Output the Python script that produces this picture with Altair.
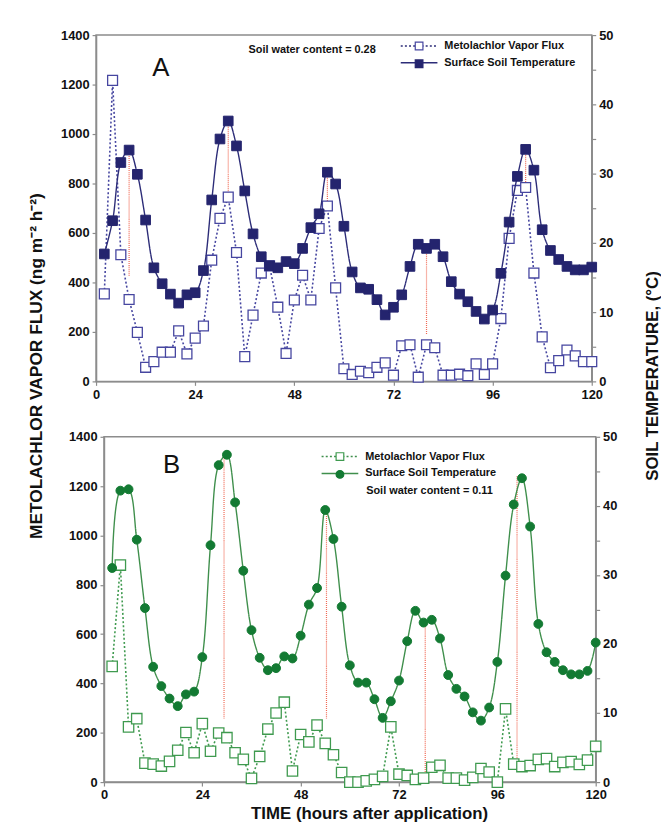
import altair as alt
import pandas as pd

FONT = "Liberation Sans"
FLUX = "Metolachlor Vapor Flux"
TEMP = "Surface Soil Temperature"
SERIES = [FLUX, TEMP]
CODES = ["f", "t"]

hours = [2, 4, 6, 8, 10, 12, 14, 16, 18, 20, 22, 24, 26, 28, 30, 32, 34, 36, 38, 40,
         42, 44, 46, 48, 50, 52, 54, 56, 58, 60, 62, 64, 66, 68, 70, 72, 74, 76, 78, 80,
         82, 84, 86, 88, 90, 92, 94, 96, 98, 100, 102, 104, 106, 108, 110, 112, 114, 116, 118, 120]

# Panel A (soil water content 0.28)
temp_a = [18.4, 23.2, 31.6, 33.4, 29.9, 23.3, 16.4, 14.1, 12.6, 11.3,
          12.5, 12.8, 16.0, 26.2, 35.0, 37.6, 34.0, 27.5, 21.3, 18.0,
          16.7, 16.4, 17.3, 17.0, 19.2, 22.2, 24.2, 30.2, 28.5, 22.4,
          15.8, 13.5, 13.3, 11.8, 9.6, 10.7, 12.5, 16.6, 19.8, 19.2,
          19.8, 18.0, 14.4, 12.6, 11.5, 10.1, 9.0, 10.3, 15.6, 23.0,
          29.6, 33.5, 30.5, 21.9, 18.9, 17.6, 16.6, 16.1, 16.1, 16.5]
flux_a = [354, 1217, 512, 331, 198, 57, 80, 118, 118, 204,
          111, 175, 224, 490, 659, 745, 521, 100, 268, 438,
          467, 300, 113, 329, 429, 329, 618, 709, 378, 51,
          28, 41, 35, 57, 75, 25, 144, 148, 17, 148,
          136, 25, 25, 29, 23, 71, 28, 71, 254, 578,
          772, 784, 438, 180, 55, 84, 127, 103, 80, 80]
lag_a_x = [8, 32, 56, 80, 104]
lag_a_top = [935, 1053, 845, 540, 938]
lag_a_bottom = [425, 745, 712, 190, 780]

# Panel B (soil water content 0.11)
temp_b = [31.0, 42.2, 42.4, 35.1, 25.2, 16.7, 13.9, 12.1, 11.0, 12.7,
          13.1, 18.1, 34.3, 45.9, 47.4, 40.5, 30.6, 22.0, 18.0, 16.2,
          16.5, 18.2, 17.9, 21.2, 25.7, 28.1, 39.4, 35.2, 25.4, 16.9,
          14.4, 14.4, 12.0, 9.3, 11.7, 14.7, 20.4, 24.8, 23.1, 23.5,
          20.8, 15.5, 13.5, 12.4, 10.1, 8.9, 10.8, 17.4, 29.9, 40.2,
          44.0, 37.0, 22.9, 18.8, 17.4, 16.2, 15.6, 15.6, 16.1, 20.2]
flux_b = [469, 880, 224, 257, 77, 73, 65, 84, 129, 201,
          119, 237, 125, 199, 180, 119, 92, 15, 104, 215,
          280, 324, 45, 193, 163, 231, 157, 111, 39, 0,
          0, 5, 11, 23, 224, 32, 27, 11, 16, 60,
          68, 16, 16, 8, 19, 55, 41, 0, 297, 73,
          63, 67, 92, 95, 63, 80, 83, 72, 89, 145]
lag_b_x = [29.3, 54.3, 78.4, 100.8]
lag_b_top = [1328, 1103, 655, 1240]
lag_b_bottom = [258, 258, 37, 92]

x_ticks = [0, 24, 48, 72, 96, 120]
flux_ticks = [0, 200, 400, 600, 800, 1000, 1200, 1400]
temp_ticks = [0, 5, 10, 15, 20, 25, 30, 35, 40, 45, 50]

LEFT_TITLE = "METOLACHLOR VAPOR FLUX  (ng m\u207b\u00b2 h\u207b\u00b2)"
RIGHT_TITLE = "SOIL TEMPERATURE, (\u00b0C)"
X_TITLE = "TIME (hours after application)"
RED = "#f06a55"


def panel(temp, flux, lag_x, lag_top, lag_bot, width, height, flux_col, temp_col,
          line_col, temp_shape, temp_size, flux_size, letter, letter_pos, swc, swc_pos,
          leg_x, leg_y, first):
    df_f = pd.DataFrame({"hour": hours, "value": flux, "series": FLUX, "code": "f"})
    df_t = pd.DataFrame({"hour": hours, "value": temp, "series": TEMP, "code": "t"})
    df_r = pd.DataFrame({"hour": lag_x, "top": lag_top, "bottom": lag_bot})
    df_l = pd.DataFrame({"hour": [letter_pos[0]], "value": [letter_pos[1]], "label": [letter]})
    df_s = pd.DataFrame({"hour": [swc_pos[0]], "value": [swc_pos[1]], "label": [swc]})

    if first:
        xax = alt.Axis(values=x_ticks, tickSize=4, labelPadding=3, labelFlush=False,
                       format="d", title=None)
    else:
        xax = alt.Axis(values=x_ticks, tickSize=4, labelPadding=3, labelFlush=False,
                       format="d", title=X_TITLE, titleX=268, titleY=32,
                       titleBaseline="middle", titleAlign="center", titleFontSize=17)
    X = alt.X("hour:Q", scale=alt.Scale(domain=[0, 120], nice=False, zero=False), axis=xax)

    if first:
        fax = alt.Axis(orient="left", values=flux_ticks, tickSize=4, labelPadding=3,
                       labelFlush=False, format="d", title=LEFT_TITLE, titleAngle=270,
                       titleFontSize=17.5,
                       titleX=-60, titleY=334, titleAlign="center", titleBaseline="middle")
    else:
        fax = alt.Axis(orient="left", values=flux_ticks, tickSize=4, labelPadding=3,
                       labelFlush=False, format="d", title=None)
    YF = alt.Y("value:Q", scale=alt.Scale(domain=[0, 1400], nice=False), axis=fax)

    if first:
        tax = alt.Axis(orient="right", values=temp_ticks, tickSize=4, labelPadding=3,
                       labelFlush=False,
                       labelExpr="datum.value % 10 == 0 ? datum.label : ''",
                       title=RIGHT_TITLE, titleAngle=270, titleFontSize=17,
                       titleX=61, titleY=344,
                       titleAlign="center", titleBaseline="middle")
    else:
        tax = alt.Axis(orient="right", values=temp_ticks, tickSize=4, labelPadding=3,
                       labelFlush=False,
                       labelExpr="datum.value % 10 == 0 ? datum.label : ''", title=None)
    YT = alt.Y("value:Q", scale=alt.Scale(domain=[0, 50], nice=False), axis=tax)

    leg_line = alt.Legend(title=None, orient="none", legendX=leg_x, legendY=leg_y,
                          padding=0, symbolType="M-5,0H5", symbolSize=55,
                          symbolStrokeColor=line_col, symbolStrokeWidth=1.5,
                          symbolFillColor="transparent", labelOffset=20, rowPadding=5,
                          labelFontSize=11, labelFontWeight="bold", labelFont=FONT,
                          labelColor="#111")
    leg_mark = alt.Legend(title=None, orient="none", legendX=leg_x, legendY=leg_y,
                          padding=0, symbolSize=60, symbolStrokeWidth=1.2,
                          labelOffset=20, rowPadding=5, labelExpr="''",
                          labelFontSize=11, labelFontWeight="bold", labelFont=FONT)
    DASH = alt.StrokeDash("series:N", scale=alt.Scale(domain=SERIES, range=[[2, 2.2], [1, 0]]),
                          legend=leg_line)
    FILL = alt.Fill("code:N", scale=alt.Scale(domain=CODES, range=["white", temp_col]),
                    legend=leg_mark)
    STROKE = alt.Stroke("code:N", scale=alt.Scale(domain=CODES, range=[flux_col, temp_col]),
                        legend=leg_mark)
    SHAPE = alt.Shape("code:N", scale=alt.Scale(domain=CODES, range=["square", temp_shape]),
                      legend=leg_mark)

    rules = alt.Chart(df_r).mark_rule(stroke=RED, strokeWidth=1.2, strokeDash=[1, 1]).encode(
        x=X, y=alt.Y("top:Q", scale=alt.Scale(domain=[0, 1400], nice=False), axis=fax),
        y2="bottom:Q")
    fline = alt.Chart(df_f).mark_line(stroke=flux_col, strokeWidth=1.6).encode(
        x=X, y=YF, strokeDash=DASH)
    fpts = alt.Chart(df_f).mark_point(filled=True, strokeWidth=1.3,
                                      size=flux_size, opacity=1).encode(
        x=X, y=YF, fill=FILL, stroke=STROKE, shape=SHAPE)
    ltxt = alt.Chart(df_l).mark_text(font=FONT, fontSize=26, color="#111",
                                     baseline="middle", align="center").encode(
        x=X, y=YF, text="label:N")
    stxt = alt.Chart(df_s).mark_text(font=FONT, fontSize=11, fontWeight="bold", color="#111",
                                     baseline="middle", align="left").encode(
        x=X, y=YF, text="label:N")
    tline = alt.Chart(df_t).mark_line(stroke=line_col, strokeWidth=1.4,
                                      interpolate="catmull-rom").encode(
        x=X, y=YT, strokeDash=DASH)
    tpts = alt.Chart(df_t).mark_point(filled=True, strokeWidth=1,
                                      size=temp_size, opacity=1).encode(
        x=X, y=YT, fill=FILL, stroke=STROKE, shape=SHAPE)

    left = alt.layer(rules, fline, fpts, ltxt, stxt)
    right = alt.layer(tline, tpts)
    return alt.layer(left, right).resolve_scale(y="independent").properties(
        width=width, height=height)


panel_a = panel(temp_a, flux_a, lag_a_x, lag_a_top, lag_a_bottom, 501, 350,
                "#4646a0", "#24246e", "#2c2c78", "square", 95, 100,
                "A", (15.7, 1268), "Soil water content = 0.28", (36.9, 1340),
                321, 5.5, True)
panel_b = panel(temp_b, flux_b, lag_b_x, lag_b_top, lag_b_bottom, 497, 349,
                "#3f9a4f", "#137a33", "#3f8f4c", "circle", 80, 110,
                "B", (16.5, 1284), "Soil water content = 0.11", (64.0, 1180),
                233, 14.5, False)

spacer = alt.Chart(pd.DataFrame({"s": [0]})).mark_point(opacity=0).encode(
    x=alt.value(0), y=alt.value(0)).properties(
    width=8, height=349, view=alt.ViewBackground(stroke="transparent"))

RES = dict(fill="independent", shape="independent", stroke="independent",
           strokeDash="independent")
lower = alt.hconcat(spacer, panel_b, spacing=0, bounds="flush").resolve_scale(**RES)

chart = alt.vconcat(
    panel_a, lower, spacing=56, bounds="flush",
).resolve_scale(**RES).properties(
    padding={"left": 19, "top": 16, "right": 0, "bottom": 0},
    background="white",
).configure_view(
    stroke="#8c8c8c", strokeWidth=1.5,
).configure_axis(
    labelFont=FONT, labelFontWeight="bold", labelFontSize=13, labelColor="#111",
    domainColor="#8c8c8c", domainWidth=1.5, tickColor="#8c8c8c", tickWidth=1.2,
    grid=False, titleFont=FONT, titleFontWeight="bold", titleFontSize=16, titleColor="#111",
).configure_legend(
    labelFont=FONT, labelFontWeight="bold", labelFontSize=11,
)

chart.save("out.html", embed_options={"renderer": "svg", "actions": False})
